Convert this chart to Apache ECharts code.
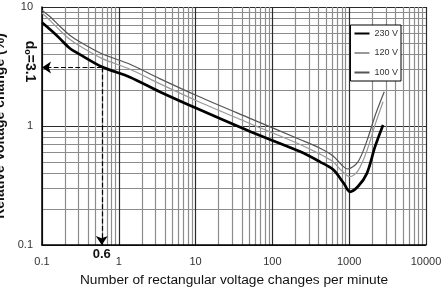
<!DOCTYPE html>
<html>
<head>
<meta charset="utf-8">
<script src="https://cdn.jsdelivr.net/npm/echarts@6/dist/echarts.min.js"></script>
<style>
html, body { margin: 0; padding: 0; background: #fff; }
#chart { width: 442px; height: 296px; }
</style>
</head>
<body>
<div id="chart"></div>
<script>
var chart = echarts.init(document.getElementById('chart'));

// rate (changes per minute) vs relative voltage change d (%)
var v230 = [[0.1, 7.4], [0.13, 6.4], [0.17, 5.45], [0.23, 4.5], [0.31, 4.0], [0.6, 3.15],
    [1.4, 2.57], [3.4, 1.94], [11, 1.38], [51, 0.9], [229, 0.61], [417, 0.5], [617, 0.43],
    [850, 0.33], [1020, 0.28], [1300, 0.31], [1700, 0.4], [2170, 0.67], [2760, 1.02]];
var v120 = [[0.1, 8.9], [0.13, 7.6], [0.17, 6.4], [0.23, 5.35], [0.31, 4.7], [0.6, 3.7],
    [1.4, 3.0], [3.4, 2.27], [11, 1.6], [51, 1.05], [229, 0.7], [417, 0.58], [617, 0.5],
    [800, 0.42], [1020, 0.375], [1300, 0.42], [1700, 0.62], [2200, 1.05], [2760, 1.6]];
var v100 = [[0.1, 9.4], [0.13, 8.2], [0.17, 6.9], [0.23, 5.8], [0.31, 5.1], [0.6, 4.05],
    [1.4, 3.3], [3.4, 2.5], [11, 1.77], [51, 1.16], [229, 0.77], [417, 0.65], [617, 0.56],
    [800, 0.47], [955, 0.435], [1300, 0.5], [1700, 0.75], [2200, 1.25], [2860, 1.94]];

var refRate = 0.6, refD = 3.1;
var xMin = 0.1, xMax = 10000, yMin = 0.1, yMax = 10;

var gridColor = '#2a2a2a', minorColor = '#8c8c8c';

chart.setOption({
    animation: false,
    textStyle: { fontFamily: 'Liberation Sans, Arial, sans-serif' },
    grid: { left: 42, right: 16, top: 7, bottom: 51, outerBoundsMode: 'none', containLabel: false },
    legend: {
        data: ['230 V', '120 V', '100 V'],
        orient: 'vertical',
        right: 41, top: 25,
        backgroundColor: '#fff',
        borderColor: '#000', borderWidth: 1,
        padding: [4, 3, 4, 3],
        itemWidth: 15, itemHeight: 8, itemGap: 10.5,
        itemStyle: { opacity: 0, borderWidth: 0 },
        textStyle: { fontSize: 9, color: '#333' }
    },
    xAxis: {
        type: 'log', logBase: 10, min: xMin, max: xMax,
        name: 'Number of rectangular voltage changes per minute',
        nameLocation: 'middle', nameGap: 28,
        nameTextStyle: { fontSize: 13.7, color: '#111' },
        axisLine: { lineStyle: { color: '#000', width: 1.5 } },
        axisTick: { show: false },
        axisLabel: { fontSize: 11, color: '#333', margin: 11, formatter: function (v) { return String(v); } },
        splitLine: { show: true, lineStyle: { color: gridColor, width: 1.2 } },
        minorTick: { show: false, splitNumber: 9 },
        minorSplitLine: { show: true, lineStyle: { color: minorColor, width: 1.2 } }
    },
    yAxis: {
        type: 'log', logBase: 10, min: yMin, max: yMax,
        name: 'Relative Voltage change (%)',
        nameLocation: 'middle', nameGap: 26,
        nameTextStyle: { fontSize: 14, color: '#111', fontWeight: 'bold' },
        axisLine: { show: true, lineStyle: { color: '#000', width: 1.5 } },
        axisTick: { show: false },
        axisLabel: { fontSize: 11, color: '#333', margin: 9, formatter: function (v) { return String(v); } },
        splitLine: { show: true, lineStyle: { color: gridColor, width: 1.2 } },
        minorTick: { show: false, splitNumber: 9 },
        minorSplitLine: { show: true, lineStyle: { color: minorColor, width: 1.2 } }
    },
    series: [
        {
            name: '100 V', type: 'line', data: v100, symbol: 'none', smooth: 0.3,
            lineStyle: { color: '#555', width: 1.2 }, itemStyle: { color: '#555' }
        },
        {
            name: '120 V', type: 'line', data: v120, symbol: 'none', smooth: 0.3,
            lineStyle: { color: '#999', width: 1.2 }, itemStyle: { color: '#999' }
        },
        {
            name: '230 V', type: 'line', data: v230, symbol: 'none', smooth: 0.3,
            lineStyle: { color: '#000', width: 2.7 }, itemStyle: { color: '#000' },
            markLine: {
                silent: true,
                symbol: ['none', 'arrow'], symbolSize: 9,
                lineStyle: { type: 'dashed', color: '#000', width: 1.2 },
                data: [
                    [{ coord: [refRate, refD] }, { coord: [xMin, refD] }],
                    [{ coord: [refRate, refD] }, { coord: [refRate, yMin] }]
                ],
                label: {
                    show: true, position: 'end',
                    formatter: function (p) { return p.dataIndex === 1 ? String(refRate) : ''; },
                    fontSize: 13, fontWeight: 'bold', color: '#111', distance: 3
                }
            },
            markPoint: {
                silent: true,
                symbol: 'circle', symbolSize: 0,
                data: [{
                    coord: [xMin, refD],
                    label: {
                        show: true, position: 'inside', rotate: -90, offset: [-6, 12],
                        formatter: '{d|d}{o|o}{v|=' + refD + '}',
                        rich: {
                            d: { fontSize: 14, fontWeight: 'bold', color: '#111' },
                            o: { fontSize: 9, fontWeight: 'bold', color: '#111', verticalAlign: 'bottom', padding: [6, 0, 0, 0] },
                            v: { fontSize: 14, fontWeight: 'bold', color: '#111' }
                        }
                    }
                }]
            }
        }
    ]
});
</script>
</body>
</html>
